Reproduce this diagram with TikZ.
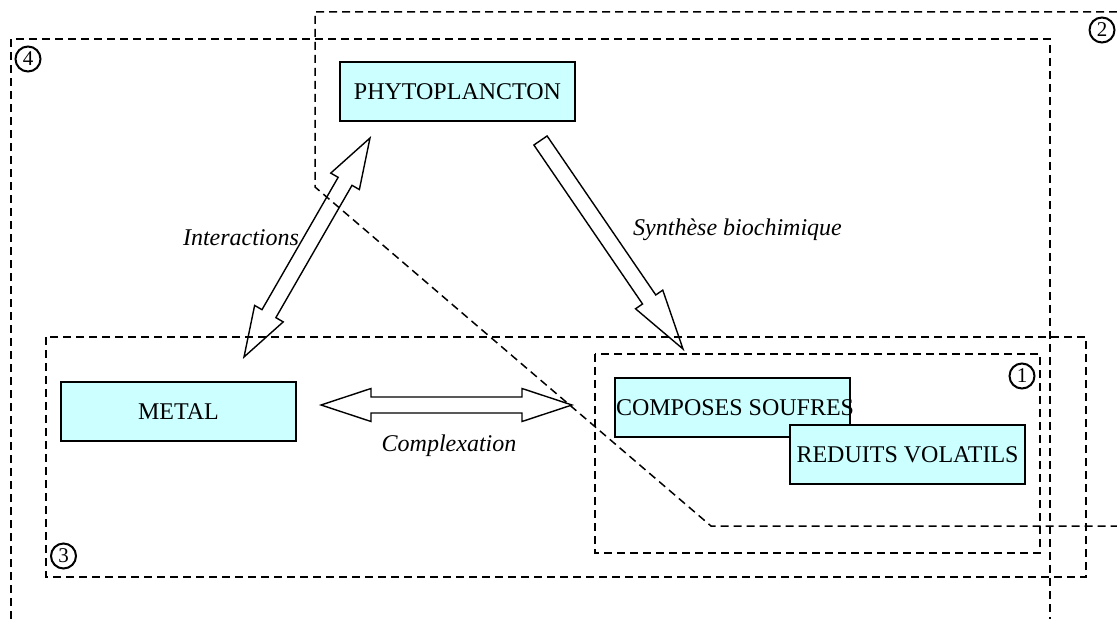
\documentclass[tikz,border=0pt]{standalone}
\usepackage{fontspec}
\setmainfont{Liberation Serif}
\usetikzlibrary{calc}
\definecolor{cyanpale}{HTML}{CCFFFF}
\tikzset{
  boite/.style     = {rectangle, draw=black, line width=1pt, fill=cyanpale,
                      minimum width=117.5pt, minimum height=29.5pt, inner sep=0pt,
                      font=\fontsize{12}{14}\selectfont},
  etiquette/.style = {inner sep=0pt, font=\fontsize{12}{14}\selectfont\itshape},
  zone/.style      = {draw=black, line width=0.75pt, dash pattern=on 4pt off 2.5pt},
  numero/.style    = {circle, draw=black, line width=1pt, minimum size=12.5pt,
                      inner sep=0pt, font=\fontsize{10.5}{10.5}\selectfont},
  fleche/.style    = {draw=black, line width=0.7pt, line join=miter},
}
% grosses fleches creuses
\newcommand{\Wfl}{4pt}
\newcommand{\Hfl}{8.25pt}
\newcommand{\flechedouble}[3][25pt]{%
  \draw[fleche] (#2)
    -- ($(#2)!#1!(#3)!\Hfl!90:(#3)$)
    -- ($(#2)!#1!(#3)!\Wfl!90:(#3)$)
    -- ($(#3)!#1!(#2)!\Wfl!-90:(#2)$)
    -- ($(#3)!#1!(#2)!\Hfl!-90:(#2)$)
    -- (#3)
    -- ($(#3)!#1!(#2)!\Hfl!90:(#2)$)
    -- ($(#3)!#1!(#2)!\Wfl!90:(#2)$)
    -- ($(#2)!#1!(#3)!\Wfl!-90:(#3)$)
    -- ($(#2)!#1!(#3)!\Hfl!-90:(#3)$)
    -- cycle;}
\newcommand{\flechesimple}[3][30pt]{%
  \draw[fleche] ($(#2)!\Wfl!90:(#3)$)
    -- ($(#3)!#1!(#2)!\Wfl!-90:(#2)$)
    -- ($(#3)!#1!(#2)!\Hfl!-90:(#2)$)
    -- (#3)
    -- ($(#3)!#1!(#2)!\Hfl!90:(#2)$)
    -- ($(#3)!#1!(#2)!\Wfl!90:(#2)$)
    -- ($(#2)!\Wfl!-90:(#3)$)
    -- cycle;}

\begin{document}
\begin{tikzpicture}[x=0.5pt, y=-0.5pt]
    \useasboundingbox (0,0) rectangle (1117,619);

    % --- zones
    \draw[zone] (11,619) -- (11,39) -- (1050,39) -- (1050,619);
    \draw[zone] (1117,12) -- (315,12) -- (315,187) -- (711,526) -- (1117,526);
    \draw[zone] (46,337) rectangle (1086,577);
    \draw[zone] (595,354) rectangle (1040,553);

    \node[numero] (n1) at (1022,376) {1};
    \node[numero] (n2) at (1102,30) {2};
    \node[numero] (n3) at (63.5,556) {3};
    \node[numero] (n4) at (28,59) {4};

    % --- boites
    \node[boite] (phyto) at (457.5,91.5) {PHYTOPLANCTON};
    \node[boite] (metal) at (178.5,411.5) {\raisebox{-2pt}{METAL}};
    \node[boite] (composes) at (732,407.5) {\makebox[116pt][l]{COMPOSES SOUFRES}};
    \node[boite] (reduits) at (907.5,454.5) {REDUITS VOLATILS};

    % --- fleches
    \coordinate (inter-h) at (370,138);
    \coordinate (inter-b) at (244,357);
    \coordinate (synth-d) at (540.5,140.5);
    \coordinate (synth-f) at (683,349);
    \coordinate (compl-g) at (321,405);
    \coordinate (compl-d) at (572,405);

    \flechedouble{inter-h}{inter-b}
    \flechesimple{synth-d}{synth-f}
    \flechedouble{compl-g}{compl-d}

    \node[etiquette] (l-inter) at (241,238) {Interactions};
    \node[etiquette] (l-synth) at (737.5,230) {Synthèse biochimique};
    \node[etiquette] (l-compl) at (449,446) {Complexation};
\end{tikzpicture}
\end{document}
